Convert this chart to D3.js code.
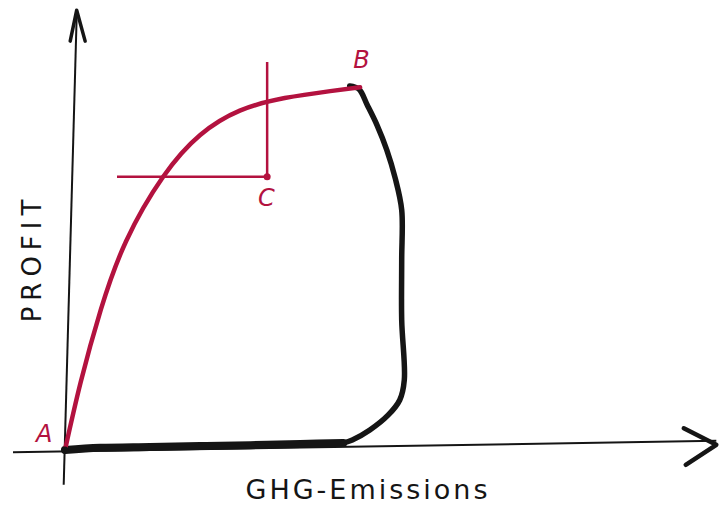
<!DOCTYPE html>
<html>
<head>
<meta charset="utf-8">
<script src="https://cdn.jsdelivr.net/npm/d3@7/dist/d3.min.js"></script>
<style>
  html, body { margin: 0; padding: 0; background: #fff; }
  svg { display: block; }
</style>
</head>
<body>
<svg id="chart" width="722" height="506"></svg>
<script>
// Profit vs. GHG emissions sketch (data units 0..100 on both axes)

// Efficient frontier A -> B (red)
const frontier = [
  [0, 0], [2.4, 15.5], [5.5, 32.2], [9.4, 48.0], [15.1, 62.8],
  [20.8, 72.4], [26.9, 78.0], [33.8, 80.9], [40.8, 82.5], [45.4, 83.4]
];

// Remaining boundary of the feasible set, B -> bottom -> A (black)
const boundaryRight = [
  [43.8, 83.7], [45.2, 83.0], [46.5, 79.3], [48.0, 74.7], [49.5, 69.0],
  [50.8, 62.5], [51.8, 55.2], [51.8, 43.7], [51.8, 29.9], [52.2, 16.1],
  [51.5, 11.5], [49.7, 8.0], [46.9, 4.6], [44.2, 2.3], [42.8, 1.6]
];
const boundaryBottom = [
  [42.8, 1.6], [36.2, 1.4], [28.5, 1.1], [20.8, 0.9], [13.1, 0.7], [5.4, 0.5], [0, 0]
];

// Point C and its guide lines
const pointC = [31.1, 62.8];
const guideH = [[8, 62.8], [31.1, 62.8]];
const guideV = [[31.1, 62.8], [31.1, 89.2]];

// Hand-drawn axes with arrowheads
const yAxisLine = [[-0.2, -8], [1.8, 100]];
const yArrow = [[0.8, 94], [1.8, 101.1], [3.1, 94]];
const xAxisLine = [[-8, -0.5], [100.2, 2.1]];
const xArrow = [[95.2, 5], [100.2, 1.2], [95.5, -3.4]];

const pointLabels = [
  { name: "A", at: [-3.2, 1.8] },
  { name: "B", at: [45.6, 87.8] },
  { name: "C", at: [31, 56.2] }
];
const xTitle = "GHG-Emissions";
const yTitle = "PROFIT";

const svg = d3.select("#chart");
const x = d3.scaleLinear().domain([0, 100]).range([65, 715]);
const y = d3.scaleLinear().domain([0, 100]).range([450, 15]);

const RED = "#b3123f";
const INK = "#151515";

const natural = d3.line().x(d => x(d[0])).y(d => y(d[1])).curve(d3.curveNatural);
const smooth = d3.line().x(d => x(d[0])).y(d => y(d[1])).curve(d3.curveCatmullRom.alpha(0.5));
const straight = d3.line().x(d => x(d[0])).y(d => y(d[1]));

// axes
svg.append("path").attr("d", straight(yAxisLine))
  .attr("fill", "none").attr("stroke", INK).attr("stroke-width", 2);
svg.append("path").attr("d", straight(yArrow))
  .attr("fill", "none").attr("stroke", INK).attr("stroke-width", 3.5)
  .attr("stroke-linejoin", "round").attr("stroke-linecap", "round");
svg.append("path").attr("d", straight(xAxisLine))
  .attr("fill", "none").attr("stroke", INK).attr("stroke-width", 2);
svg.append("path").attr("d", straight(xArrow))
  .attr("fill", "none").attr("stroke", INK).attr("stroke-width", 4.5)
  .attr("stroke-linejoin", "round").attr("stroke-linecap", "round");

// feasible set boundary
svg.append("path").attr("d", smooth(boundaryBottom))
  .attr("fill", "none").attr("stroke", INK).attr("stroke-width", 8)
  .attr("stroke-linecap", "round");
svg.append("path").attr("d", smooth(boundaryRight))
  .attr("fill", "none").attr("stroke", INK).attr("stroke-width", 5.5)
  .attr("stroke-linecap", "round").attr("stroke-linejoin", "round");

// guide lines to C
svg.append("path").attr("d", straight(guideH))
  .attr("fill", "none").attr("stroke", RED).attr("stroke-width", 2.5);
svg.append("path").attr("d", straight(guideV))
  .attr("fill", "none").attr("stroke", RED).attr("stroke-width", 2.5);
svg.append("circle").attr("cx", x(pointC[0])).attr("cy", y(pointC[1]))
  .attr("r", 3.5).attr("fill", RED);

// frontier A -> B
svg.append("path").attr("d", natural(frontier))
  .attr("fill", "none").attr("stroke", RED).attr("stroke-width", 4.5)
  .attr("stroke-linecap", "round");

// origin dot
svg.append("circle").attr("cx", x(0)).attr("cy", y(0)).attr("r", 3.5).attr("fill", INK);

// point labels
svg.selectAll("text.pt").data(pointLabels).join("text")
  .attr("class", "pt")
  .attr("x", d => x(d.at[0])).attr("y", d => y(d.at[1]))
  .attr("fill", RED)
  .attr("font-family", "DejaVu Sans, sans-serif")
  .attr("font-style", "italic")
  .attr("font-size", 24)
  .attr("text-anchor", "middle")
  .text(d => d.name);

// axis titles
svg.append("text")
  .attr("x", 368).attr("y", 499)
  .attr("text-anchor", "middle")
  .attr("font-family", "DejaVu Sans, sans-serif")
  .attr("font-size", 27)
  .attr("letter-spacing", 3)
  .attr("fill", INK)
  .text(xTitle);

svg.append("text")
  .attr("transform", "translate(41,258) rotate(-90)")
  .attr("text-anchor", "middle")
  .attr("font-family", "DejaVu Sans, sans-serif")
  .attr("font-size", 26)
  .attr("letter-spacing", 6)
  .attr("fill", INK)
  .text(yTitle);
</script>
</body>
</html>
